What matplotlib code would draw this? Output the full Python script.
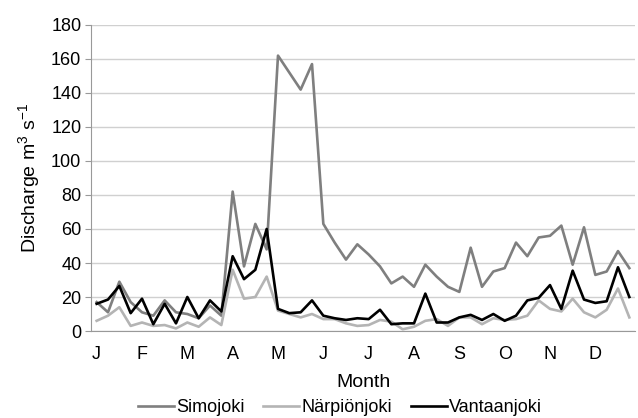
import matplotlib.pyplot as plt
import numpy as np

plt.rcParams['font.family'] = ['Liberation Sans', 'DejaVu Sans']
plt.rcParams['mathtext.fontset'] = 'custom'
plt.rcParams['mathtext.rm'] = 'Liberation Sans'

# weekly-ish discharge, 4 values per month
months = ['J', 'F', 'M', 'A', 'M', 'J', 'J', 'A', 'S', 'O', 'N', 'D']

simojoki = [17, 11, 29, 17, 11, 9, 18, 11, 10, 7.5, 15, 9,
            82, 38, 63, 48, 162, 152, 142, 157, 63, 52, 42, 51,
            45, 38, 28, 32, 26, 39, 32, 26, 23, 49, 26, 35,
            37, 52, 44, 55, 56, 62, 39, 61, 33, 35, 47, 37]

narpionjoki = [6, 9, 14, 3, 5, 3, 3.5, 1.5, 5, 2.5, 8, 3.5,
               36, 19, 20, 32, 12, 10, 8, 10, 7, 7, 4.5, 3,
               3.5, 6.5, 5.5, 1, 2.5, 6, 7, 3, 8, 8, 4, 7.5,
               6.5, 7, 9, 18, 13, 11.5, 19, 11, 8, 12.5, 25, 8]

vantaanjoki = [16, 18.5, 26.5, 10.5, 19, 4, 16, 4.5, 20, 7.5, 18, 11.5,
               44, 30.5, 36, 60, 13, 10.5, 11, 18, 9, 7.5, 6.5, 7.5,
               7, 12.5, 4, 4.5, 4.5, 22, 5, 5, 8, 9.5, 6.5, 10,
               6, 9, 18, 19.5, 27, 13, 35.5, 18.5, 16.5, 17.5, 37.5, 20]

fig = plt.figure(figsize=(6.38, 4.18), dpi=100)
ax = fig.add_axes([91 / 638, 1 - 331 / 418, 544 / 638, 306 / 418])

x = np.arange(len(simojoki))
ax.plot(x, simojoki, color='#7f7f7f', lw=1.9, label='Simojoki')
ax.plot(x, narpionjoki, color='#b4b4b4', lw=1.9, label='Närpiönjoki')
ax.plot(x, vantaanjoki, color='black', lw=1.9, label='Vantaanjoki')

ax.set_xlim(-0.5, len(x) - 0.5)
ax.set_ylim(0, 180)
ax.set_yticks(np.arange(0, 181, 20))
ax.set_xticks(np.arange(0, len(x), 4))
ax.set_xticklabels(months)
ax.tick_params(axis='x', length=0, pad=11, labelsize=13)
ax.tick_params(axis='y', length=4, color='#999999', labelsize=13, pad=3)

ax.grid(axis='y', color='#d0d0d0', lw=1)
ax.set_axisbelow(True)
for side in ['top', 'right']:
    ax.spines[side].set_visible(False)
for side in ['left', 'bottom']:
    ax.spines[side].set_color('#999999')

ax.set_xlabel('Month', fontsize=14, labelpad=8)
ax.set_ylabel('Discharge m$^3$ s$^{-1}$', fontsize=14, labelpad=6)

fig.legend(loc='center', bbox_to_anchor=(0.533, 1 - 408 / 418), ncol=3,
           frameon=False, fontsize=13, handlelength=2.0, handletextpad=0.15,
           columnspacing=1.0, borderpad=0)

fig.savefig('out.png', dpi=100)
